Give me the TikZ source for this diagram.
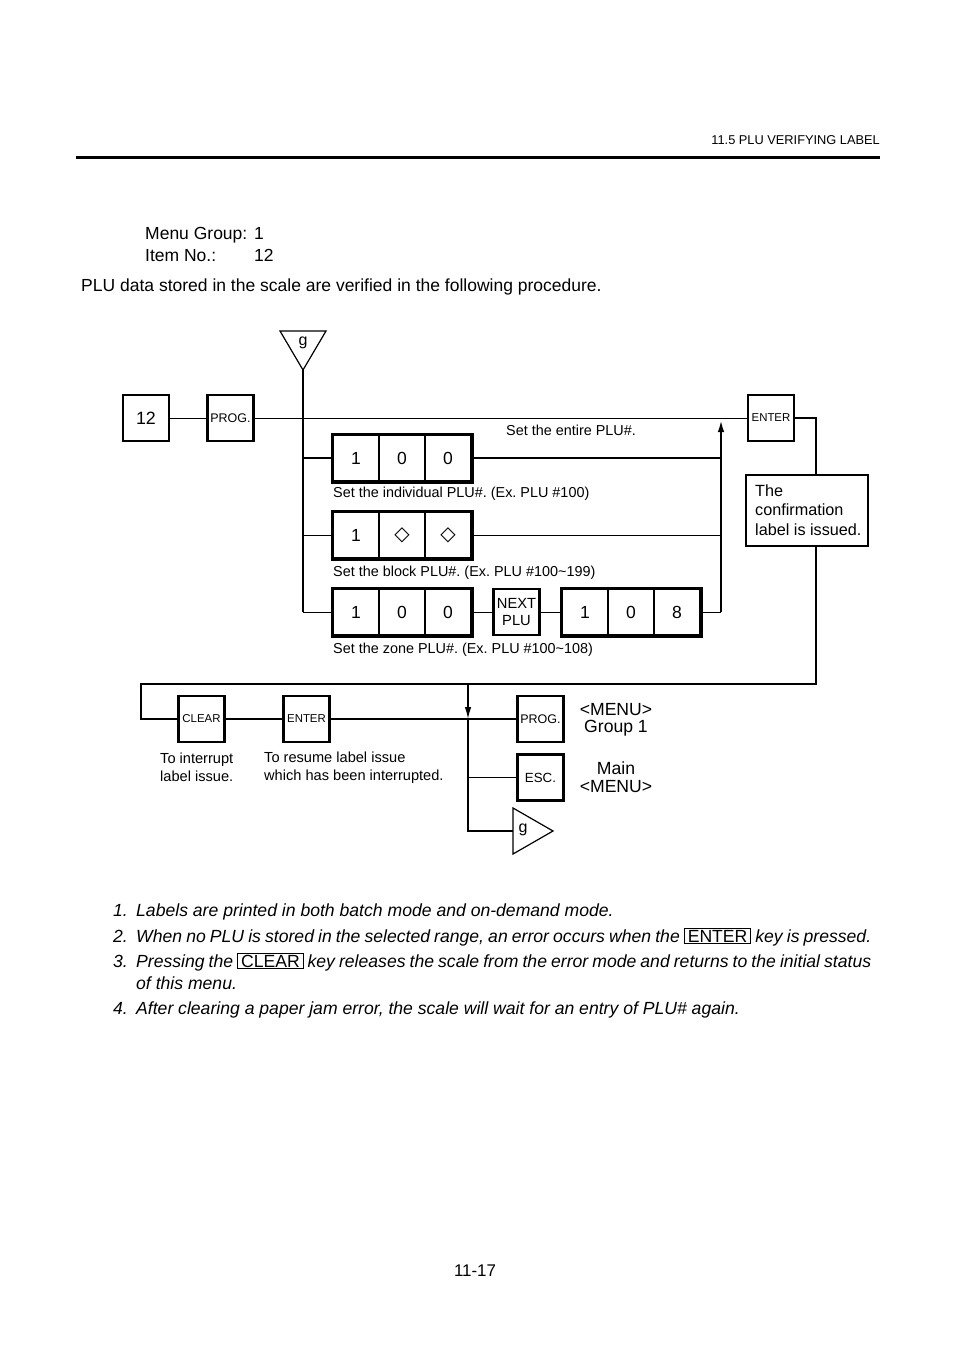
\documentclass[tikz,border=0pt]{standalone}
\usepackage{fontspec}
\setmainfont{Liberation Sans}
\newfontfamily\dejavu{DejaVu Sans}
\usetikzlibrary{arrows.meta,fit}
\frenchspacing
\newcommand{\fs}[2]{\fontsize{#1}{#2}\selectfont}
\newcommand{\keybox}[1]{{\upshape\setlength{\fboxsep}{1pt}\setlength{\fboxrule}{0.8pt}\fbox{\kern2pt#1\kern2pt}}}
\newcommand{\justline}[1]{\hbox to 735pt{#1}}
\begin{document}
\begin{tikzpicture}[x=1pt,y=-1pt,
  key/.style={draw, line width=2.6, minimum width=46, minimum height=46, inner sep=0, font=\fs{12.5}{14}},
  cell/.style={draw, line width=2, minimum width=46, minimum height=46, inner sep=0, font=\fs{17.5}{19}},
  grp/.style={draw, line width=3, inner sep=0},
  thinl/.style={line width=1},
  thickl/.style={line width=2},
  txt/.style={inner sep=0, font=\fs{14.4}{17}},
  body/.style={inner sep=0, anchor=base west, font=\fs{17.5}{20}},
  note/.style={inner sep=0, anchor=base west, font=\fs{17.6}{20}\itshape},
]
\useasboundingbox (0,0) rectangle (954,1348);
\fill[white] (0,0) rectangle (954,1348);

% header
\node[inner sep=0, anchor=base east, font=\fs{12.8}{14}] (hdr) at (880,144.5) {11.5 PLU VERIFYING LABEL};
\draw[line width=3] (76,158) -- (880,158);

\node[body] (mg) at (145,239.5) {Menu Group:};
\node[body] (mg1) at (254,239.5) {1};
\node[body] (it) at (145,261.5) {Item No.:};
\node[body] (it1) at (254,261.5) {12};
\node[body] (intro) at (81,291.5) {PLU data stored in the scale are verified in the following procedure.};

% top flow
\node[key, font=\fs{17.8}{19}] (k12) at (146,418) {12};
\node[key] (prog1) at (230.5,418) {PROG.};
\node[key, font=\fs{11.4}{13}] (enter1) at (771,418) {ENTER};

% triangle g down
\draw[line width=1.2] (280,331) -- (326,331) -- (303,370) -- cycle;
\coordinate (gapex) at (303,370);
\node[inner sep=0, font=\fs{16}{18}] (g1) at (303,343) {g};

% rows
\foreach \n/\y in {1/458,2/535,3/612}{
  \coordinate (j\n) at (303,\y);
  \coordinate (m\n) at (721,\y);
}
\node[cell] (r1a) at (356,458) {1};
\node[cell] (r1b) at (402,458) {0};
\node[cell] (r1c) at (448,458) {0};
\node[grp, fit=(r1a)(r1c)] (gr1) {};

\node[cell] (r2a) at (356,535) {1};
\node[cell, font=\dejavu\fs{20}{21}] (r2b) at (402,535) {◇};
\node[cell, font=\dejavu\fs{20}{21}] (r2c) at (448,535) {◇};
\node[grp, fit=(r2a)(r2c)] (gr2) {};

\node[cell] (r3a) at (356,612) {1};
\node[cell] (r3b) at (402,612) {0};
\node[cell] (r3c) at (448,612) {0};
\node[grp, fit=(r3a)(r3c)] (gr3) {};

\node[key, font=\fs{14.7}{17.5}, align=center] (nextplu) at (516.5,612) {NEXT\\PLU};

\node[cell] (r4a) at (585,612) {1};
\node[cell] (r4b) at (631,612) {0};
\node[cell] (r4c) at (677,612) {8};
\node[grp, fit=(r4a)(r4c)] (gr4) {};

\node[txt, anchor=west] (t0) at (506,430.5) {Set the entire PLU\#.};
\node[txt, anchor=west] (t1) at (333,494) {Set the individual PLU\#. (Ex. PLU \#100)};
\node[txt, anchor=west] (t2) at (333,573) {Set the block PLU\#. (Ex. PLU \#100\textasciitilde 199)};
\node[txt, anchor=west] (t3) at (333,650) {Set the zone PLU\#. (Ex. PLU \#100\textasciitilde 108)};

% connectors top
\draw[thinl] (k12) -- (prog1);
\draw[thinl] (prog1) -- (enter1);
\draw[thickl] (gapex) -- (j3);
\draw[thickl] (j1) -- (gr1.west);
\draw[thinl] (j2) -- (gr2.west);
\draw[thinl] (j3) -- (gr3.west);
\draw[thickl] (gr1.east) -- (m1);
\draw[thinl] (gr2.east) -- (m2);
\draw[thinl] (gr3.east) -- (nextplu);
\draw[thinl] (nextplu) -- (gr4.west);
\draw[thinl] (gr4.east) -- (m3);
\coordinate (m0) at (721,420);
\draw[thickl, -{Latex[length=12,width=6.5]}] (m3) -- (m0);

% confirmation box
\node[draw, line width=2, minimum width=122, minimum height=71, inner sep=0] (conf) at (807,510.5) {};
\node[inner sep=0, anchor=west, align=left, font=\fs{16.2}{19.5}] (conft) at (755,510) {The\\confirmation\\label is issued.};

\coordinate (c1) at (816,418);
\coordinate (c2) at (816,684);
\coordinate (c3) at (141,684);
\coordinate (c4) at (141,719);
\draw[line width=1.4] (enter1.east) -- (c1) -- (c1 |- conf.north);

% bottom flow
\node[key, font=\fs{11.4}{13}] (clear) at (201.5,719) {CLEAR};
\node[key, font=\fs{11.4}{13}] (enter2) at (306.5,719) {ENTER};
\node[key] (prog2) at (540.5,719) {PROG.};
\node[key, font=\fs{13.3}{15}] (esc) at (540.5,777.5) {ESC.};

\draw[line width=1.4] (c1 |- conf.south) -- (c2) -- (c3) -- (c4) -- (clear.west);
\draw[line width=1.4] (clear) -- (enter2);
\draw[thickl] (enter2) -- (prog2);

\coordinate (d0) at (468,684);
\coordinate (d1) at (468,719);
\coordinate (d2) at (468,777.5);
\coordinate (d3) at (468,831);
\draw[line width=1.4, -{Latex[length=12,width=6.5]}] (d0) -- (d1);
\draw[line width=1.4] (d1) -- (d3) -- (513,831);
\draw[thinl] (d2) -- (esc.west);

\draw[line width=1.2] (513,808) -- (553,831) -- (513,854) -- cycle;
\node[inner sep=0, font=\fs{16}{18}] (g2) at (523,830) {g};

\node[inner sep=0, align=center, font=\fs{17.6}{17}] (menu1) at (616,720) {<MENU>\\Group 1};
\node[inner sep=0, align=center, font=\fs{17.6}{18}] (menu2) at (616,777.5) {Main\\<MENU>};

\node[inner sep=0, anchor=west, align=left, font=\fs{14.6}{18}] (int) at (160,767.5) {To interrupt\\label issue.};
\node[inner sep=0, anchor=west, align=left, font=\fs{14.6}{18}] (res) at (264,767.5) {To resume label issue\\which has been interrupted.};

% notes
\node[note] (n1) at (113,916) {1.};
\node[note] (n1t) at (136,916) {Labels are printed in both batch mode and on-demand mode.};
\node[note] (n2) at (113,942) {2.};
\node[note] (n2t) at (136,942) {\justline{When no PLU is stored in the selected range, an error occurs when the \keybox{ENTER} key is pressed.}};
\node[note] (n3) at (113,967) {3.};
\node[note] (n3t) at (136,967) {\justline{Pressing the \keybox{CLEAR} key releases the scale from the error mode and returns to the initial status}};
\node[note] (n3u) at (136,989) {of this menu.};
\node[note] (n4) at (113,1014) {4.};
\node[note] (n4t) at (136,1014) {After clearing a paper jam error, the scale will wait for an entry of PLU\# again.};

\node[inner sep=0, font=\fs{16.9}{18}] (pg) at (475,1271) {11-17};
\end{tikzpicture}
\end{document}
